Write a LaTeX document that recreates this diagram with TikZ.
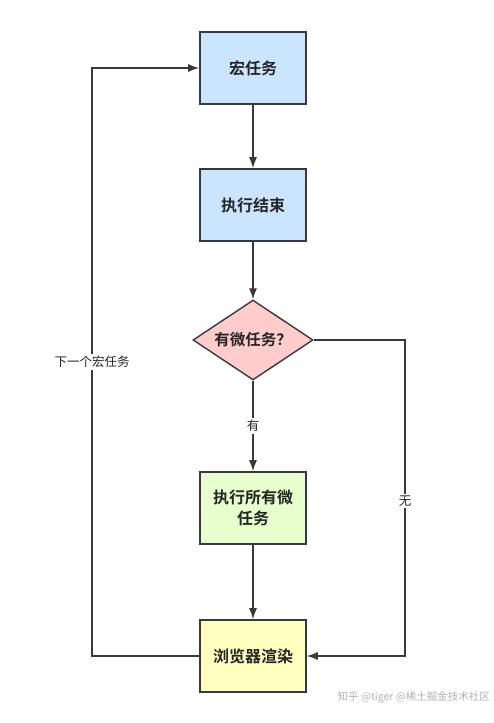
\documentclass[tikz,border=0pt]{standalone}
\usepackage{fontspec}
\setmainfont{Noto Sans CJK SC}
\newfontfamily\cjkb{Noto Sans CJK SC Bold}
\usetikzlibrary{shapes.geometric,arrows.meta}
\definecolor{edge}{HTML}{36393D}
\definecolor{fblue}{HTML}{CCE5FF}
\definecolor{fpink}{HTML}{FFCCCC}
\definecolor{fgreen}{HTML}{E6FFCC}
\definecolor{fyellow}{HTML}{FFFFC0}
\begin{document}
\begin{tikzpicture}[x=1pt,y=-1pt,
  box/.style={draw=edge,line width=1.6pt,minimum width=106pt,minimum height=72pt,inner sep=4pt,
    align=center,text width=90pt,font=\cjkb\fontsize{16}{21}\selectfont,text=black!85},
  dia/.style={diamond,draw=edge,line width=1.4pt,fill=fpink,minimum width=120pt,minimum height=80pt,
    aspect=1.5,inner sep=0pt,font=\cjkb\fontsize{15.5}{18}\selectfont,text=black!85},
  conn/.style={draw=edge,line width=1.3pt},
  arr/.style={conn,-{Latex[length=11pt,width=8pt]}},
  lab/.style={fill=white,inner sep=2pt,font=\fontsize{12.5}{14}\selectfont,text=black!85}]
\useasboundingbox (0,0) rectangle (494,723);
\fill[white] (0,0) rectangle (494,723);
\node[box,fill=fblue] (macro) at (253,68) {宏任务};
\node[box,fill=fblue] (done) at (253,205) {执行结束};
\node[dia] (q) at (253,340) {有微任务？};
\node[box,fill=fgreen] (micro) at (253,508) {执行所有微\\任务};
\node[box,fill=fyellow] (render) at (253,656) {浏览器渲染};
\coordinate (lb) at (92,656);
\coordinate (lt) at (92,68);
\coordinate (rt) at (405,340);
\coordinate (rb) at (405,656);
\draw[arr] (macro) -- (done);
\draw[arr] (done) -- (q);
\draw[arr] (q) -- node[lab,pos=0.5]{有} (micro);
\draw[arr] (micro) -- (render);
\draw[arr] (render.west) -- (lb) -- node[lab,pos=0.5]{下一个宏任务} (lt) -- (macro.west);
\draw[arr] (q.east) -- (rt) -- node[lab,pos=0.51]{无} (rb) -- (render.east);
\node[text=black!30,font=\fontsize{10.5}{13}\selectfont,anchor=east,inner sep=0pt] (wm) at (490,697) {知乎 @tiger @稀土掘金技术社区};
\end{tikzpicture}
\end{document}
